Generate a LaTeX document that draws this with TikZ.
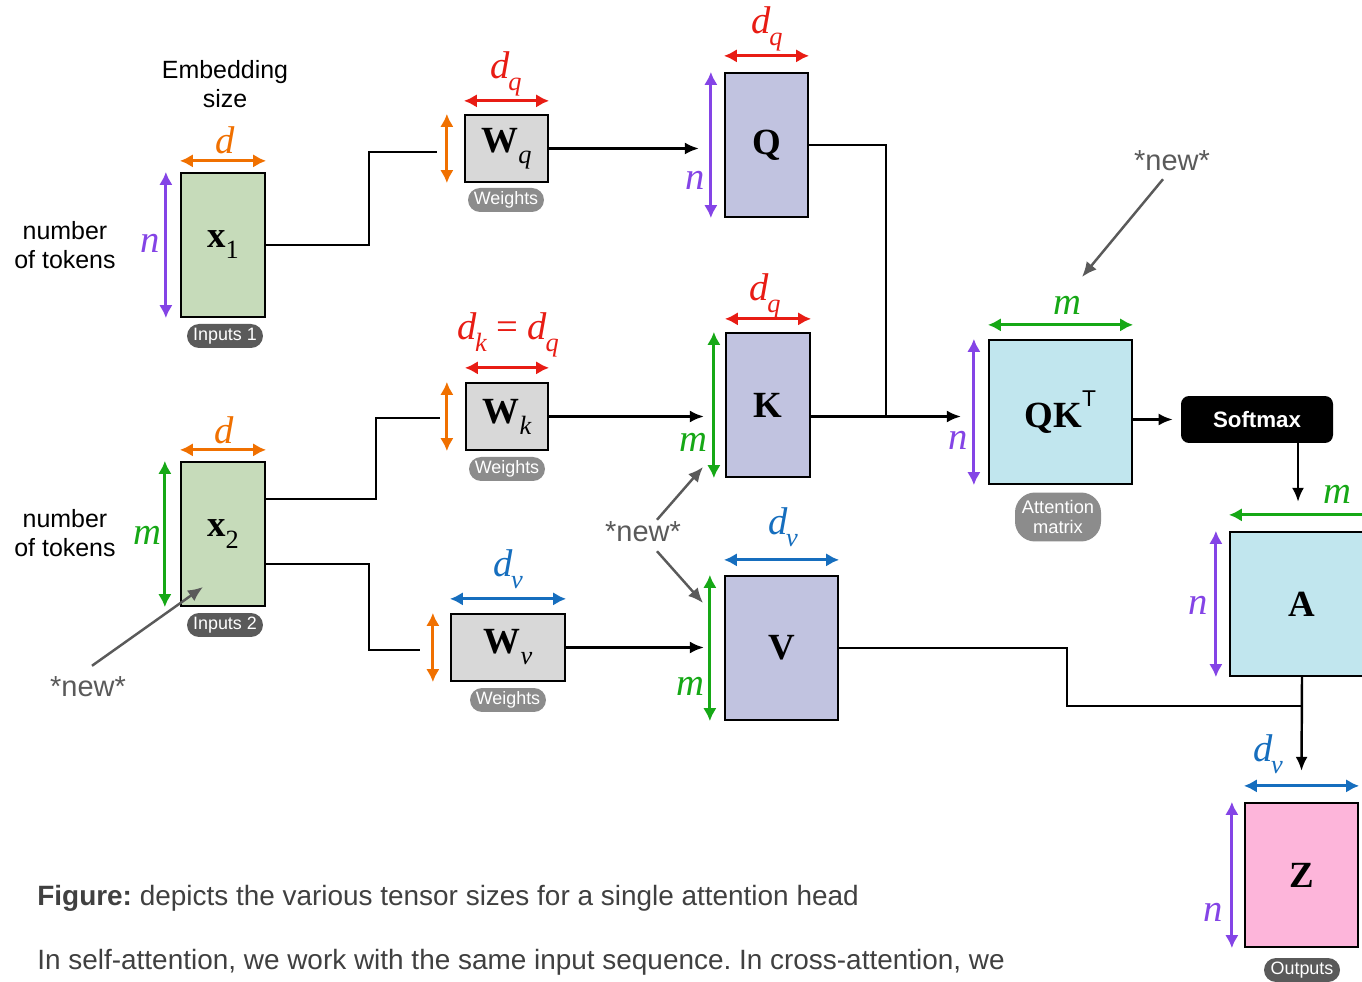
\documentclass[tikz,border=0pt]{standalone}
\usepackage{fontspec}
\newfontfamily\arial{Liberation Sans}
\newfontfamily\tms{Liberation Serif}
\usetikzlibrary{arrows.meta,calc}
\frenchspacing
\definecolor{cOr}{RGB}{240,112,0}
\definecolor{cPu}{RGB}{132,68,230}
\definecolor{cGr}{RGB}{22,168,22}
\definecolor{cRe}{RGB}{232,28,20}
\definecolor{cBl}{RGB}{22,110,190}
\definecolor{fGreen}{RGB}{198,219,186}
\definecolor{fGray}{RGB}{216,216,216}
\definecolor{fLav}{RGB}{193,195,224}
\definecolor{fCyan}{RGB}{193,230,238}
\definecolor{fPink}{RGB}{253,181,218}
\definecolor{pDark}{RGB}{90,90,90}
\definecolor{pLight}{RGB}{140,140,140}
\definecolor{txt}{RGB}{64,64,64}
\definecolor{newc}{RGB}{90,90,90}
\newcommand\hd[3]{\draw[dim,#1] ([yshift=#3cm]#2.north west) -- ([yshift=#3cm]#2.north east);}
\newcommand\vd[3]{\draw[dim,#1] ([xshift=-#3cm]#2.north west) -- ([xshift=-#3cm]#2.south west);}
\newcommand\isub[2]{#1\kern-0.04em\raisebox{-0.3em}{\fontsize{15}{15}\selectfont #2}}
\newcommand\bsub[2]{#1\raisebox{-0.3em}{\mdseries\fontsize{15}{15}\selectfont #2}}
\begin{document}
\begin{tikzpicture}[x=0.02cm,y=-0.02cm,
 mat/.style={draw=black,line width=1.3pt,inner sep=0pt,font=\tms\bfseries\fontsize{21}{24}\selectfont},
 pill/.style={rounded corners=0.24cm,fill=pDark,text=white,inner sep=0pt,minimum height=0.48cm,minimum width=1.52cm,font=\arial\fontsize{10.2}{11}\selectfont},
 wpill/.style={pill,fill=pLight},
 dim/.style={line width=1.8pt,{Latex[length=0.26cm,width=0.27cm]}-{Latex[length=0.26cm,width=0.27cm]}},
 conn/.style={line width=1.4pt},
 arr/.style={conn,-{Latex[length=0.28cm,width=0.24cm]}},
 lab/.style={font=\tms\itshape\fontsize{22}{24}\selectfont, inner sep=1pt},
 sans/.style={font=\arial\fontsize{14.2}{16.5}\selectfont,align=center,inner sep=1pt},
 newl/.style={font=\arial\fontsize{16.5}{19}\selectfont,text=newc,inner sep=1pt},
 newarr/.style={draw=newc,line width=1.4pt,-{Latex[length=0.3cm,width=0.26cm]}},
 captxt/.style={font=\arial\fontsize{15.9}{19}\selectfont,text=txt,inner sep=0pt,anchor=base west},
]
\clip (0,0) rectangle (1362,982);
\fill[white] (0,0) rectangle (1362,982);

% matrices
\node[mat,fill=fGreen,minimum width=1.68cm,minimum height=2.88cm] (x1) at (223,245) {\bsub{x}{1}};
\node[mat,fill=fGreen,minimum width=1.68cm,minimum height=2.88cm] (x2) at (223,534) {\bsub{x}{2}};
\node[mat,fill=fGray,minimum width=1.66cm,minimum height=1.34cm] (Wq) at (506.5,148.5) {\bsub{W}{\itshape q}};
\node[mat,fill=fGray,minimum width=1.64cm,minimum height=1.34cm] (Wk) at (507,416.5) {\bsub{W}{\itshape k}};
\node[mat,fill=fGray,minimum width=2.28cm,minimum height=1.34cm] (Wv) at (508,647.5) {\bsub{W}{\itshape v}};
\node[mat,fill=fLav,minimum width=1.66cm,minimum height=2.88cm] (Q) at (766.5,145) {Q};
\node[mat,fill=fLav,minimum width=1.68cm,minimum height=2.88cm] (K) at (768,405) {K};
\node[mat,fill=fLav,minimum width=2.26cm,minimum height=2.88cm] (V) at (781.5,648) {V};
\node[mat,fill=fCyan,minimum width=2.86cm,minimum height=2.88cm] (QKT) at (1060.5,412) {QK\raisebox{0.55em}{\mdseries\arial\fontsize{13}{13}\selectfont T}};
\node[mat,fill=fCyan,minimum width=2.88cm,minimum height=2.88cm] (A) at (1302,604) {A};
\node[mat,fill=fPink,minimum width=2.26cm,minimum height=2.88cm] (Z) at (1301.5,875) {Z};
\node[fill=black,rounded corners=0.16cm,minimum width=3.04cm,minimum height=0.94cm,text=white,font=\arial\bfseries\fontsize{12.7}{15}\selectfont] (soft) at (1257,419.5) {Softmax};

% pills
\node[pill] (p1) at (225,336) {Inputs 1};
\node[pill] (p2) at (225,625) {Inputs 2};
\node[wpill] (pwq) at (506,200) {Weights};
\node[wpill] (pwk) at (507,469) {Weights};
\node[wpill] (pwv) at (508,700) {Weights};
\node[wpill,rounded corners=0.4cm,minimum width=1.72cm,minimum height=0.98cm,align=center,font=\arial\fontsize{10.4}{11.5}\selectfont] (patt) at (1058,517) {Attention\\matrix};
\node[pill] (pout) at (1302,970) {Outputs};

% dimension arrows
\hd{cOr}{x1}{0.22} \vd{cPu}{x1}{0.28}
\hd{cOr}{x2}{0.22} \vd{cGr}{x2}{0.30}
\hd{cRe}{Wq}{0.26} \vd{cOr}{Wq}{0.34}
\hd{cRe}{Wk}{0.28} \vd{cOr}{Wk}{0.36}
\hd{cBl}{Wv}{0.28} \vd{cOr}{Wv}{0.34}
\hd{cRe}{Q}{0.32} \vd{cPu}{Q}{0.26}
\hd{cRe}{K}{0.26} \vd{cGr}{K}{0.22}
\hd{cBl}{V}{0.30} \vd{cGr}{V}{0.28}
\hd{cGr}{QKT}{0.28} \vd{cPu}{QKT}{0.28}
\hd{cGr}{A}{0.32} \vd{cPu}{A}{0.26}
\hd{cBl}{Z}{0.32} \vd{cPu}{Z}{0.24}

% dimension labels
\node[lab,text=cOr] (l1) at (225,140) {d};
\node[lab,text=cPu] (l2) at (150,243) {n};
\node[lab,text=cOr] (l3) at (224,430) {d};
\node[lab,text=cGr] (l4) at (147,535) {m};
\node[lab,text=cRe] (l5) at (506,74) {\isub{d}{q}};
\node[lab,text=cRe] (l6) at (508,335) {\isub{d}{k}\hspace{0.25em}{\upshape =}\hspace{0.25em}\isub{d}{q}};
\node[lab,text=cBl] (l7) at (508,569) {\isub{d}{v}};
\node[lab,text=cRe] (l8) at (767,29) {\isub{d}{q}};
\node[lab,text=cPu] (l9) at (695,180) {n};
\node[lab,text=cRe] (l10) at (765,296) {\isub{d}{q}};
\node[lab,text=cGr] (l11) at (693,442) {m};
\node[lab,text=cBl] (l12) at (783,527) {\isub{d}{v}};
\node[lab,text=cGr] (l13) at (690,686) {m};
\node[lab,text=cGr] (l14) at (1067,305) {m};
\node[lab,text=cPu] (l15) at (958,440) {n};
\node[lab,text=cGr] (l16) at (1337,494) {m};
\node[lab,text=cPu] (l17) at (1198,605) {n};
\node[lab,text=cBl] (l18) at (1268,754) {\isub{d}{v}};
\node[lab,text=cPu] (l19) at (1213,912) {n};

% side texts
\node[sans] (emb) at (225,84) {Embedding\\size};
\node[sans] (nt1) at (65,245) {number\\of tokens};
\node[sans] (nt2) at (65,533) {number\\of tokens};

% new markers
\node[newl] (new1) at (88,687) {*new*};
\node[newl] (new2) at (643,532) {*new*};
\node[newl] (new3) at (1172,161) {*new*};
\coordinate (t1) at (203,587);
\coordinate (t2) at (703,467);
\coordinate (t3) at (703,603);
\coordinate (t4) at (1082,277);
\draw[newarr] ([xshift=0.08cm,yshift=0.18cm]new1.north) -- (t1);
\draw[newarr] ([xshift=0.28cm]new2.north) -- (t2);
\draw[newarr] ([xshift=0.28cm,yshift=-0.14cm]new2.south) -- (t3);
\draw[newarr] ([xshift=-0.18cm,yshift=-0.12cm]new3.south) -- (t4);

% connectors
\coordinate (wqin) at (437,152);
\coordinate (wkin) at (440,418);
\coordinate (wvin) at (420,650);
\draw[conn] (x1.east) -- ++(103,0) |- (wqin);
\draw[conn] ([yshift=0.7cm]x2.east) -- ++(110,0) |- (wkin);
\draw[conn] ([yshift=-0.6cm]x2.east) -- ++(103,0) |- (wvin);
\draw[arr] (Wq.east) -- ([xshift=-0.5cm]Wq.east -| Q.west);
\draw[arr] (Wk.east) -- ([xshift=-0.42cm]Wk.east -| K.west);
\draw[arr] (Wv.east) -- ([xshift=-0.4cm]Wv.east -| V.west);
\coordinate (jq) at (886,416.5);
\draw[conn] (Q.east) -| (jq);
\draw[arr] (Wk.east -| K.east) -- ([xshift=-0.54cm]Wk.east -| QKT.west);
\draw[arr] (QKT.east |- soft.west) -- ([xshift=-0.16cm]soft.west);
\draw[arr] ([xshift=-0.08cm]soft.south -| A.north) -- ([xshift=-0.08cm,yshift=0.58cm]A.north);
\coordinate (jz) at (1302,706);
\draw[conn] (V.east) -- ++(228,0) |- (jz);
\draw[arr] (A.south) -- ([yshift=0.62cm]Z.north);

% caption text
\node[captxt] (cap1) at (37,905) {\textbf{Figure:} depicts the various tensor sizes for a single attention head};
\node[captxt] (cap2) at (37,969) {In self-attention, we work with the same input sequence. In cross-attention, we};
\end{tikzpicture}
\end{document}
